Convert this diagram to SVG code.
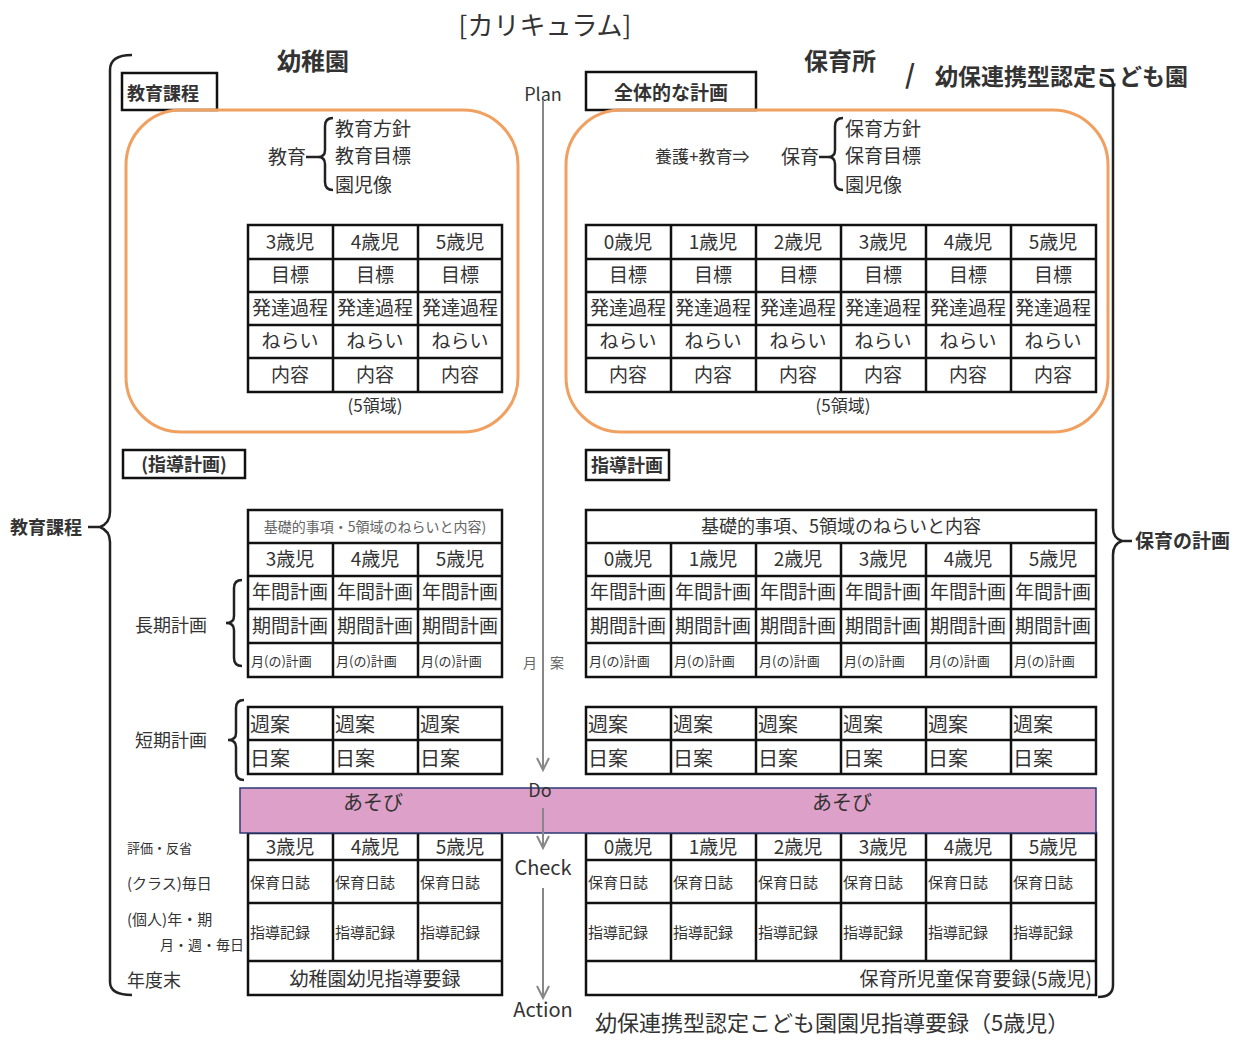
<svg xmlns="http://www.w3.org/2000/svg" width="1235" height="1040" viewBox="0 0 1235 1040">
<defs>
<style>
text{font-family:"Noto Sans CJK JP","Liberation Sans",sans-serif;fill:#333}
.c{text-anchor:middle}
.e{text-anchor:end}
.t19{font-size:19px}
.t15{font-size:15px}
.t13{font-size:13px}
.b{font-weight:bold}
.tb{fill:#fff;stroke:#111;stroke-width:2.5}
.ln{stroke:#111;stroke-width:2.5;fill:none}
.br{stroke:#222;stroke-width:2.5;fill:none}
.org{fill:none;stroke:#f0a060;stroke-width:3}
.ax{stroke:#888;stroke-width:2;fill:none}
.gr{fill:#666}
</style>
</defs>
<rect width="1235" height="1040" fill="#fff"/>

<g id="titles">
<text x="545" y="35" class="c" style="font-size:26px">[カリキュラム]</text>
<text x="313" y="70" class="c b" style="font-size:24px">幼稚園</text>
<text x="840" y="70" class="c b" style="font-size:24px">保育所</text>
<text x="910" y="84" class="c b" style="font-size:26px">/</text>
<text x="935" y="85" class="b" style="font-size:23px">幼保連携型認定こども園</text>
<text x="595" y="1031" style="font-size:22px">幼保連携型認定こども園園児指導要録（5歳児）</text>
</g>

<g id="outer-brackets">
<path class="br" d="M132,55 Q110,55 110,70 L110,512 Q110,523 100,527 L88,527 M100,527 Q110,531 110,542 L110,982 Q110,995 132,995"/>
<text x="10" y="534" style="font-size:18px" class="b">教育課程</text>
<path class="br" d="M1100,75 Q1113,75 1113,85 L1113,528 Q1113,538 1122,541 L1132,541 M1122,541 Q1113,544 1113,555 L1113,985 Q1113,997 1098,997"/>
<text x="1135" y="548" style="font-size:19px" class="b">保育の計画</text>
</g>

<g id="pdca">
<text x="543" y="101" class="c" style="font-size:18px">Plan</text>
<line class="ax" x1="543" y1="100" x2="543" y2="770"/>
<path class="ax" d="M537,758 L543,770 L549,758"/>
<text x="530" y="668" class="c gr" style="font-size:14px">月</text>
<text x="557" y="668" class="c gr" style="font-size:14px">案</text>
</g>

<g id="kyouiku-katei">
<rect x="122" y="73" width="95" height="37" class="tb"/>
<text x="127" y="100" class="b" style="font-size:18px">教育課程</text>
</g>

<g id="zentai-keikaku">
<rect x="586" y="72" width="170" height="38" class="tb"/>
<text x="671" y="100" class="c b" style="font-size:19px">全体的な計画</text>
</g>

<g id="left-overview">
<rect x="126" y="110" width="392" height="322" rx="55" class="org"/>
<text x="268" y="164" style="font-size:19px">教育</text>
<line class="br" x1="306" y1="157" x2="318" y2="157"/>
<path class="br" d="M333,118 Q325,118 325,126 L325,150 Q325,157 318,157 Q325,157 325,164 L325,182 Q325,190 333,190"/>
<text x="335" y="136" style="font-size:19px">教育方針</text>
<text x="335" y="163" style="font-size:19px">教育目標</text>
<text x="335" y="192" style="font-size:19px">園児像</text>
</g>

<g id="left-top-table">
<rect x="248" y="225" width="254" height="167" class="tb"/>
<path class="ln" d="M333,225V392M418,225V392M248,259H502M248,292H502M248,325H502M248,358H502"/>
<g class="c t19">
<text x="290" y="249">3歳児</text><text x="375" y="249">4歳児</text><text x="460" y="249">5歳児</text>
<text x="290" y="282">目標</text><text x="375" y="282">目標</text><text x="460" y="282">目標</text>
<text x="290" y="315">発達過程</text><text x="375" y="315">発達過程</text><text x="460" y="315">発達過程</text>
<text x="290" y="348">ねらい</text><text x="375" y="348">ねらい</text><text x="460" y="348">ねらい</text>
<text x="290" y="382">内容</text><text x="375" y="382">内容</text><text x="460" y="382">内容</text>
</g>
<text x="375" y="412" class="c" style="font-size:17px">(5領域)</text>
</g>

<g id="right-overview">
<rect x="566" y="110" width="542" height="322" rx="55" class="org"/>
<text x="655" y="163" style="font-size:17px">養護+教育⇒</text>
<text x="781" y="164" style="font-size:19px">保育</text>
<line class="br" x1="819" y1="157" x2="828" y2="157"/>
<path class="br" d="M843,118 Q835,118 835,126 L835,150 Q835,157 828,157 Q835,157 835,164 L835,182 Q835,190 843,190"/>
<text x="845" y="136" style="font-size:19px">保育方針</text>
<text x="845" y="163" style="font-size:19px">保育目標</text>
<text x="845" y="192" style="font-size:19px">園児像</text>
</g>

<g id="right-top-table">
<rect x="586" y="225" width="510" height="167" class="tb"/>
<path class="ln" d="M671,225V392M756,225V392M841,225V392M926,225V392M1011,225V392M586,259H1096M586,292H1096M586,325H1096M586,358H1096"/>
<g class="c t19">
<text x="628" y="249">0歳児</text><text x="713" y="249">1歳児</text><text x="798" y="249">2歳児</text><text x="883" y="249">3歳児</text><text x="968" y="249">4歳児</text><text x="1053" y="249">5歳児</text>
<text x="628" y="282">目標</text><text x="713" y="282">目標</text><text x="798" y="282">目標</text><text x="883" y="282">目標</text><text x="968" y="282">目標</text><text x="1053" y="282">目標</text>
<text x="628" y="315">発達過程</text><text x="713" y="315">発達過程</text><text x="798" y="315">発達過程</text><text x="883" y="315">発達過程</text><text x="968" y="315">発達過程</text><text x="1053" y="315">発達過程</text>
<text x="628" y="348">ねらい</text><text x="713" y="348">ねらい</text><text x="798" y="348">ねらい</text><text x="883" y="348">ねらい</text><text x="968" y="348">ねらい</text><text x="1053" y="348">ねらい</text>
<text x="628" y="382">内容</text><text x="713" y="382">内容</text><text x="798" y="382">内容</text><text x="883" y="382">内容</text><text x="968" y="382">内容</text><text x="1053" y="382">内容</text>
</g>
<text x="843" y="412" class="c" style="font-size:17px">(5領域)</text>
</g>

<g id="left-shidou-label">
<rect x="123" y="450" width="122" height="28" class="tb"/>
<text x="184" y="471" class="c b" style="font-size:18px">(指導計画)</text>
</g>
<g id="right-shidou-label">
<rect x="586" y="450" width="83" height="30" class="tb"/>
<text x="627" y="472" class="c b" style="font-size:18px">指導計画</text>
</g>

<g id="left-long-term">
<rect x="248" y="510" width="254" height="167" class="tb"/>
<path class="ln" d="M333,543V677M418,543V677M248,543H502M248,576H502M248,609H502M248,643H502"/>
<text x="375" y="532" class="c gr" style="font-size:14px">基礎的事項・5領域のねらいと内容)</text>
<g class="c t19">
<text x="290" y="566">3歳児</text><text x="375" y="566">4歳児</text><text x="460" y="566">5歳児</text>
<text x="290" y="599">年間計画</text><text x="375" y="599">年間計画</text><text x="460" y="599">年間計画</text>
<text x="290" y="633">期間計画</text><text x="375" y="633">期間計画</text><text x="460" y="633">期間計画</text>
</g>
<g class="t13">
<text x="251" y="666">月(の)計画</text><text x="336" y="666">月(の)計画</text><text x="421" y="666">月(の)計画</text>
</g>
<text x="135" y="632" style="font-size:18px">長期計画</text>
<path class="br" d="M242,580 Q234,580 234,588 L234,616 Q234,623 226,623 Q234,623 234,630 L234,658 Q234,666 242,666"/>
</g>

<g id="right-long-term">
<rect x="586" y="510" width="510" height="167" class="tb"/>
<path class="ln" d="M671,543V677M756,543V677M841,543V677M926,543V677M1011,543V677M586,543H1096M586,576H1096M586,609H1096M586,643H1096"/>
<text x="841" y="533" class="c" style="font-size:18px">基礎的事項、5領域のねらいと内容</text>
<g class="c t19">
<text x="628" y="566">0歳児</text><text x="713" y="566">1歳児</text><text x="798" y="566">2歳児</text><text x="883" y="566">3歳児</text><text x="968" y="566">4歳児</text><text x="1053" y="566">5歳児</text>
<text x="628" y="599">年間計画</text><text x="713" y="599">年間計画</text><text x="798" y="599">年間計画</text><text x="883" y="599">年間計画</text><text x="968" y="599">年間計画</text><text x="1053" y="599">年間計画</text>
<text x="628" y="633">期間計画</text><text x="713" y="633">期間計画</text><text x="798" y="633">期間計画</text><text x="883" y="633">期間計画</text><text x="968" y="633">期間計画</text><text x="1053" y="633">期間計画</text>
</g>
<g class="t13">
<text x="589" y="666">月(の)計画</text><text x="674" y="666">月(の)計画</text><text x="759" y="666">月(の)計画</text><text x="844" y="666">月(の)計画</text><text x="929" y="666">月(の)計画</text><text x="1014" y="666">月(の)計画</text>
</g>
</g>

<g id="left-short-term">
<rect x="248" y="707" width="254" height="67" class="tb"/>
<path class="ln" d="M333,707V774M418,707V774M248,740H502"/>
<g style="font-size:20px">
<text x="250" y="732">週案</text><text x="335" y="732">週案</text><text x="420" y="732">週案</text>
<text x="250" y="766">日案</text><text x="335" y="766">日案</text><text x="420" y="766">日案</text>
</g>
<text x="135" y="747" style="font-size:18px">短期計画</text>
<path class="br" d="M244,700 Q236,700 236,708 L236,733 Q236,740 228,740 Q236,740 236,747 L236,772 Q236,780 244,780"/>
</g>

<g id="right-short-term">
<rect x="586" y="707" width="510" height="67" class="tb"/>
<path class="ln" d="M671,707V774M756,707V774M841,707V774M926,707V774M1011,707V774M586,740H1096"/>
<g style="font-size:20px">
<text x="588" y="732">週案</text><text x="673" y="732">週案</text><text x="758" y="732">週案</text><text x="843" y="732">週案</text><text x="928" y="732">週案</text><text x="1013" y="732">週案</text>
<text x="588" y="766">日案</text><text x="673" y="766">日案</text><text x="758" y="766">日案</text><text x="843" y="766">日案</text><text x="928" y="766">日案</text><text x="1013" y="766">日案</text>
</g>
</g>

<g id="left-eval-table">
<rect x="248" y="833" width="254" height="162" class="tb"/>
<path class="ln" d="M333,833V961M418,833V961M248,860H502M248,903H502M248,961H502"/>
<g class="c t19">
<text x="290" y="854">3歳児</text><text x="375" y="854">4歳児</text><text x="460" y="854">5歳児</text>
</g>
<g class="t15">
<text x="250" y="888">保育日誌</text><text x="335" y="888">保育日誌</text><text x="420" y="888">保育日誌</text>
</g>
<g class="t15 gr">
<text x="250" y="938">指導記録</text><text x="335" y="938">指導記録</text><text x="420" y="938">指導記録</text>
</g>
<text x="375" y="986" class="c t19">幼稚園幼児指導要録</text>
</g>

<g id="right-eval-table">
<rect x="586" y="833" width="510" height="162" class="tb"/>
<path class="ln" d="M671,833V961M756,833V961M841,833V961M926,833V961M1011,833V961M586,860H1096M586,903H1096M586,961H1096"/>
<g class="c t19">
<text x="628" y="854">0歳児</text><text x="713" y="854">1歳児</text><text x="798" y="854">2歳児</text><text x="883" y="854">3歳児</text><text x="968" y="854">4歳児</text><text x="1053" y="854">5歳児</text>
</g>
<g class="t15">
<text x="588" y="888">保育日誌</text><text x="673" y="888">保育日誌</text><text x="758" y="888">保育日誌</text><text x="843" y="888">保育日誌</text><text x="928" y="888">保育日誌</text><text x="1013" y="888">保育日誌</text>
</g>
<g class="t15 gr">
<text x="588" y="938">指導記録</text><text x="673" y="938">指導記録</text><text x="758" y="938">指導記録</text><text x="843" y="938">指導記録</text><text x="928" y="938">指導記録</text><text x="1013" y="938">指導記録</text>
</g>
<text x="1092" y="986" class="e t19">保育所児童保育要録(5歳児)</text>
</g>

<g id="eval-labels">
<text x="127" y="853" class="t13">評価・反省</text>
<text x="127" y="889" class="t15">(クラス)毎日</text>
<text x="127" y="925" class="t15">(個人)年・期</text>
<text x="160" y="950" style="font-size:14px">月・週・毎日</text>
<text x="127" y="987" style="font-size:18px">年度末</text>
</g>

<g id="asobi">
<rect x="240" y="788" width="856" height="45" fill="#dda0c8" stroke="#2c3a78" stroke-width="1.5"/>
<text x="373" y="810" class="c" style="font-size:20px">あそび</text>
<text x="842" y="810" class="c" style="font-size:20px">あそび</text>
</g>

<g id="pdca-lower">
<text x="540" y="797" class="c" style="font-size:18px">Do</text>
<line class="ax" x1="543" y1="808" x2="543" y2="848"/>
<path class="ax" d="M537,836 L543,848 L549,836"/>
<text x="543" y="875" class="c" style="font-size:20px">Check</text>
<line class="ax" x1="543" y1="888" x2="543" y2="998"/>
<path class="ax" d="M537,986 L543,998 L549,986"/>
<text x="543" y="1017" class="c" style="font-size:20px">Action</text>
</g>
</svg>
